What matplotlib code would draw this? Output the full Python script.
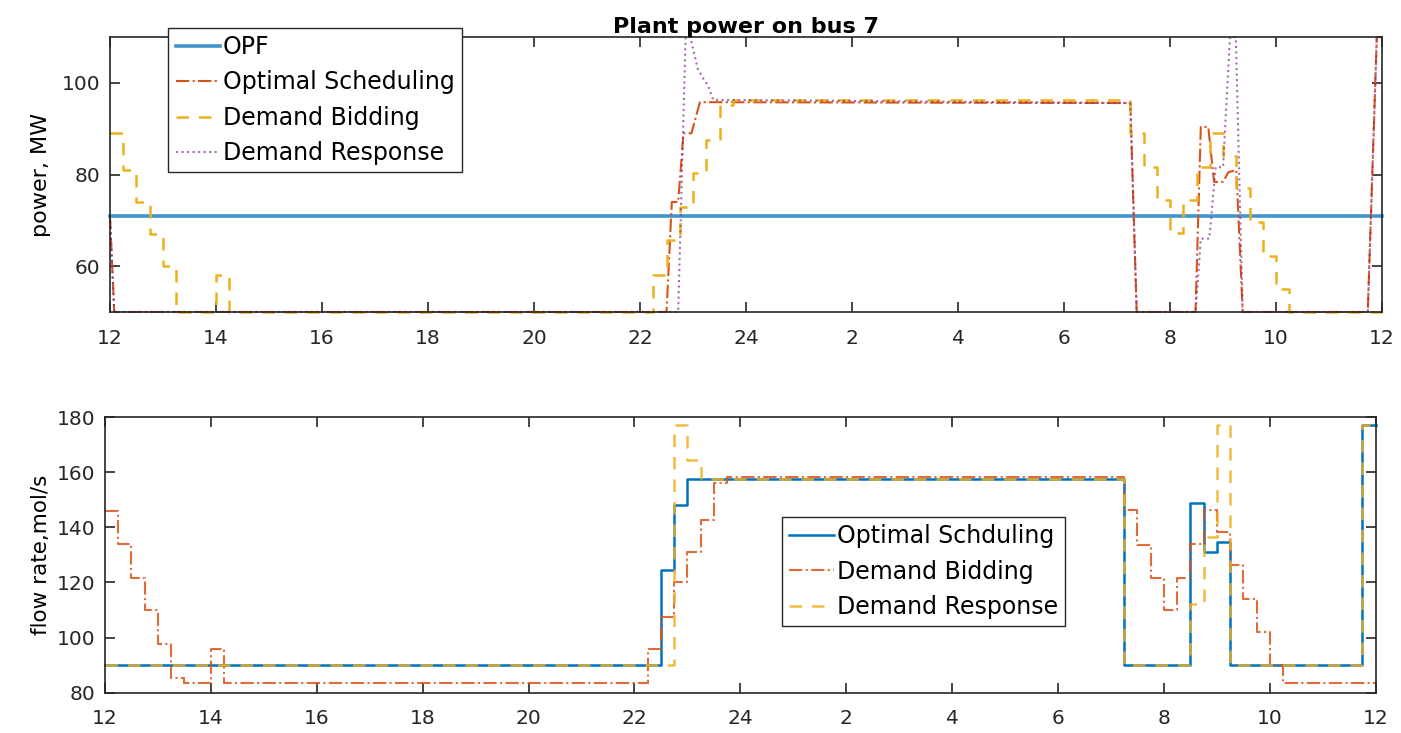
import numpy as np
import matplotlib.pyplot as plt

plt.rcParams['font.family'] = ['DejaVu Sans']

# ---- top: plant power (MW), hour of day starting at noon (12..36) ----
t_opf = [12, 36]
p_opf = [71, 71]

t_os = [12, 12.08, 22.5, 22.6, 22.72, 22.82, 22.97, 23.13, 31.25, 31.37, 32.48, 32.58,
        32.72, 32.83, 33.0, 33.1, 33.25, 33.37, 35.73, 35.9, 36]
p_os = [71, 50, 50, 74, 74, 89, 89, 95.8, 95.6, 50, 50, 90.4,
        90.4, 78.4, 78.4, 80.5, 81, 50, 50, 110, 110]

t_db = [12, 12.25, 12.5, 12.75, 13, 13.25, 14, 14.25, 22.25, 22.5, 22.75, 23, 23.25,
        23.5, 23.75, 31.25, 31.5, 31.75, 32, 32.25, 32.5, 32.75, 33, 33.25, 33.5,
        33.75, 34, 34.25, 36]
p_db = [89, 81, 74, 67, 60, 50, 58, 50, 58, 65.7, 73, 80.3, 87.5,
        95.2, 96.3, 89, 81.6, 74.4, 67.2, 74.4, 81.6, 89, 84, 77, 69.6,
        62.2, 55, 50, 50]

t_dr = [12, 12.08, 22.72, 22.86, 22.95, 23.09, 23.19, 23.28, 23.38, 31.25, 31.37,
        32.48, 32.58, 32.74, 32.86, 33.0, 33.13, 33.24, 33.37, 35.73, 35.9, 36]
p_dr = [71, 50, 50, 110, 110, 103, 101, 99.5, 96.3, 95.6, 50,
        50, 66, 66, 81.6, 81.6, 110, 110, 50, 50, 110, 110]

# ---- bottom: flow rate (mol/s), step values holding until next time ----
f_t_os = [12, 22.5, 22.75, 23.0, 31.25, 32.5, 32.75, 33.0, 33.25, 35.75, 36]
f_os = [90, 124.5, 148, 157.5, 90, 148.8, 131, 134.6, 90, 177, 177]

f_t_db = [12, 12.25, 12.5, 12.75, 13, 13.25, 13.5, 14, 14.25, 22.25, 22.5, 22.75, 23,
          23.25, 23.5, 23.75, 31.25, 31.5, 31.75, 32, 32.25, 32.5, 32.75, 33, 33.25,
          33.5, 33.75, 34, 34.25, 36]
f_db = [146, 134, 121.5, 110, 97.6, 85.4, 83.5, 95.8, 83.5, 96, 107.5, 120, 131,
        142.6, 156, 158.3, 146.3, 133.6, 121.7, 110, 121.7, 134, 146.3, 138.4, 126.3,
        114, 102, 90, 83.5, 83.5]

f_t_dr = [12, 22.75, 23.0, 23.25, 31.25, 32.5, 32.75, 33.0, 33.25, 35.75, 36]
f_dr = [90, 177, 164.5, 157.5, 90, 112, 136.6, 177, 90, 177, 177]

xticks = list(range(12, 37, 2))
xlabels = [str(h if h <= 24 else h - 24) for h in xticks]

c_blue = '#0072BD'
c_red = '#D95319'
c_yel = '#EDB120'
c_pur = '#7E2F8E'
fs = 14.5
fs_leg = 17

fig = plt.figure(figsize=(14.01, 7.33), dpi=100)
ax1 = fig.add_axes([0.0785, 0.5744, 0.908, 0.375])
ax2 = fig.add_axes([0.0749, 0.055, 0.907, 0.376])

ax1.plot(t_opf, p_opf, color=c_blue, lw=2.6, alpha=0.75, label='OPF', clip_on=False)
ax1.plot(t_os, p_os, color=c_red, lw=1.5, ls='-.', label='Optimal Scheduling', clip_on=False)
ax1.step(t_db, p_db, where='post', color=c_yel, lw=1.8, ls=(0, (5, 4)),
         label='Demand Bidding', clip_on=False)
ax1.plot(t_dr, p_dr, color=c_pur, lw=1.5, ls=':', alpha=0.7, label='Demand Response', clip_on=False)
ax1.set_xlim(12, 36)
ax1.set_ylim(50, 110)
ax1.set_yticks([60, 80, 100])
ax1.set_ylabel('power, MW', fontsize=16, labelpad=8)
ax1.set_title('Plant power on bus 7', fontsize=16, fontweight='bold', pad=3)
ax1.legend(loc='upper left', bbox_to_anchor=(0.046, 1.033), borderaxespad=0,
           fontsize=fs_leg, fancybox=False, edgecolor='#262626', framealpha=1,
           handlelength=1.9, handletextpad=0.1, labelspacing=0.48, borderpad=0.3)

ax2.step(f_t_os, f_os, where='post', color=c_blue, lw=1.8, label='Optimal Schduling', clip_on=False)
ax2.step(f_t_db, f_db, where='post', color=c_red, lw=1.5, ls='-.', alpha=0.85,
         label='Demand Bidding', clip_on=False)
ax2.step(f_t_dr, f_dr, where='post', color=c_yel, lw=1.8, ls=(0, (5, 4)), alpha=0.85,
         label='Demand Response', clip_on=False)
ax2.set_xlim(12, 36)
ax2.set_ylim(80, 180)
ax2.set_yticks(range(80, 181, 20))
ax2.set_ylabel('flow rate,mol/s', fontsize=15.5, labelpad=4)
ax2.legend(loc='upper left', bbox_to_anchor=(0.533, 0.637), borderaxespad=0,
           fontsize=fs_leg, fancybox=False, edgecolor='#262626', framealpha=1,
           handlelength=1.9, handletextpad=0.1, labelspacing=0.48, borderpad=0.3)

for ax in (ax1, ax2):
    ax.set_xticks(xticks)
    ax.set_xticklabels(xlabels)
    ax.tick_params(direction='in', top=True, right=True, labelsize=fs,
                   length=7, width=1.2, colors='#262626', pad=7)
    ax.tick_params(axis='x', pad=12)
    for s in ax.spines.values():
        s.set_color('#262626')
        s.set_linewidth(1.2)

fig.savefig('out.png', dpi=100)
